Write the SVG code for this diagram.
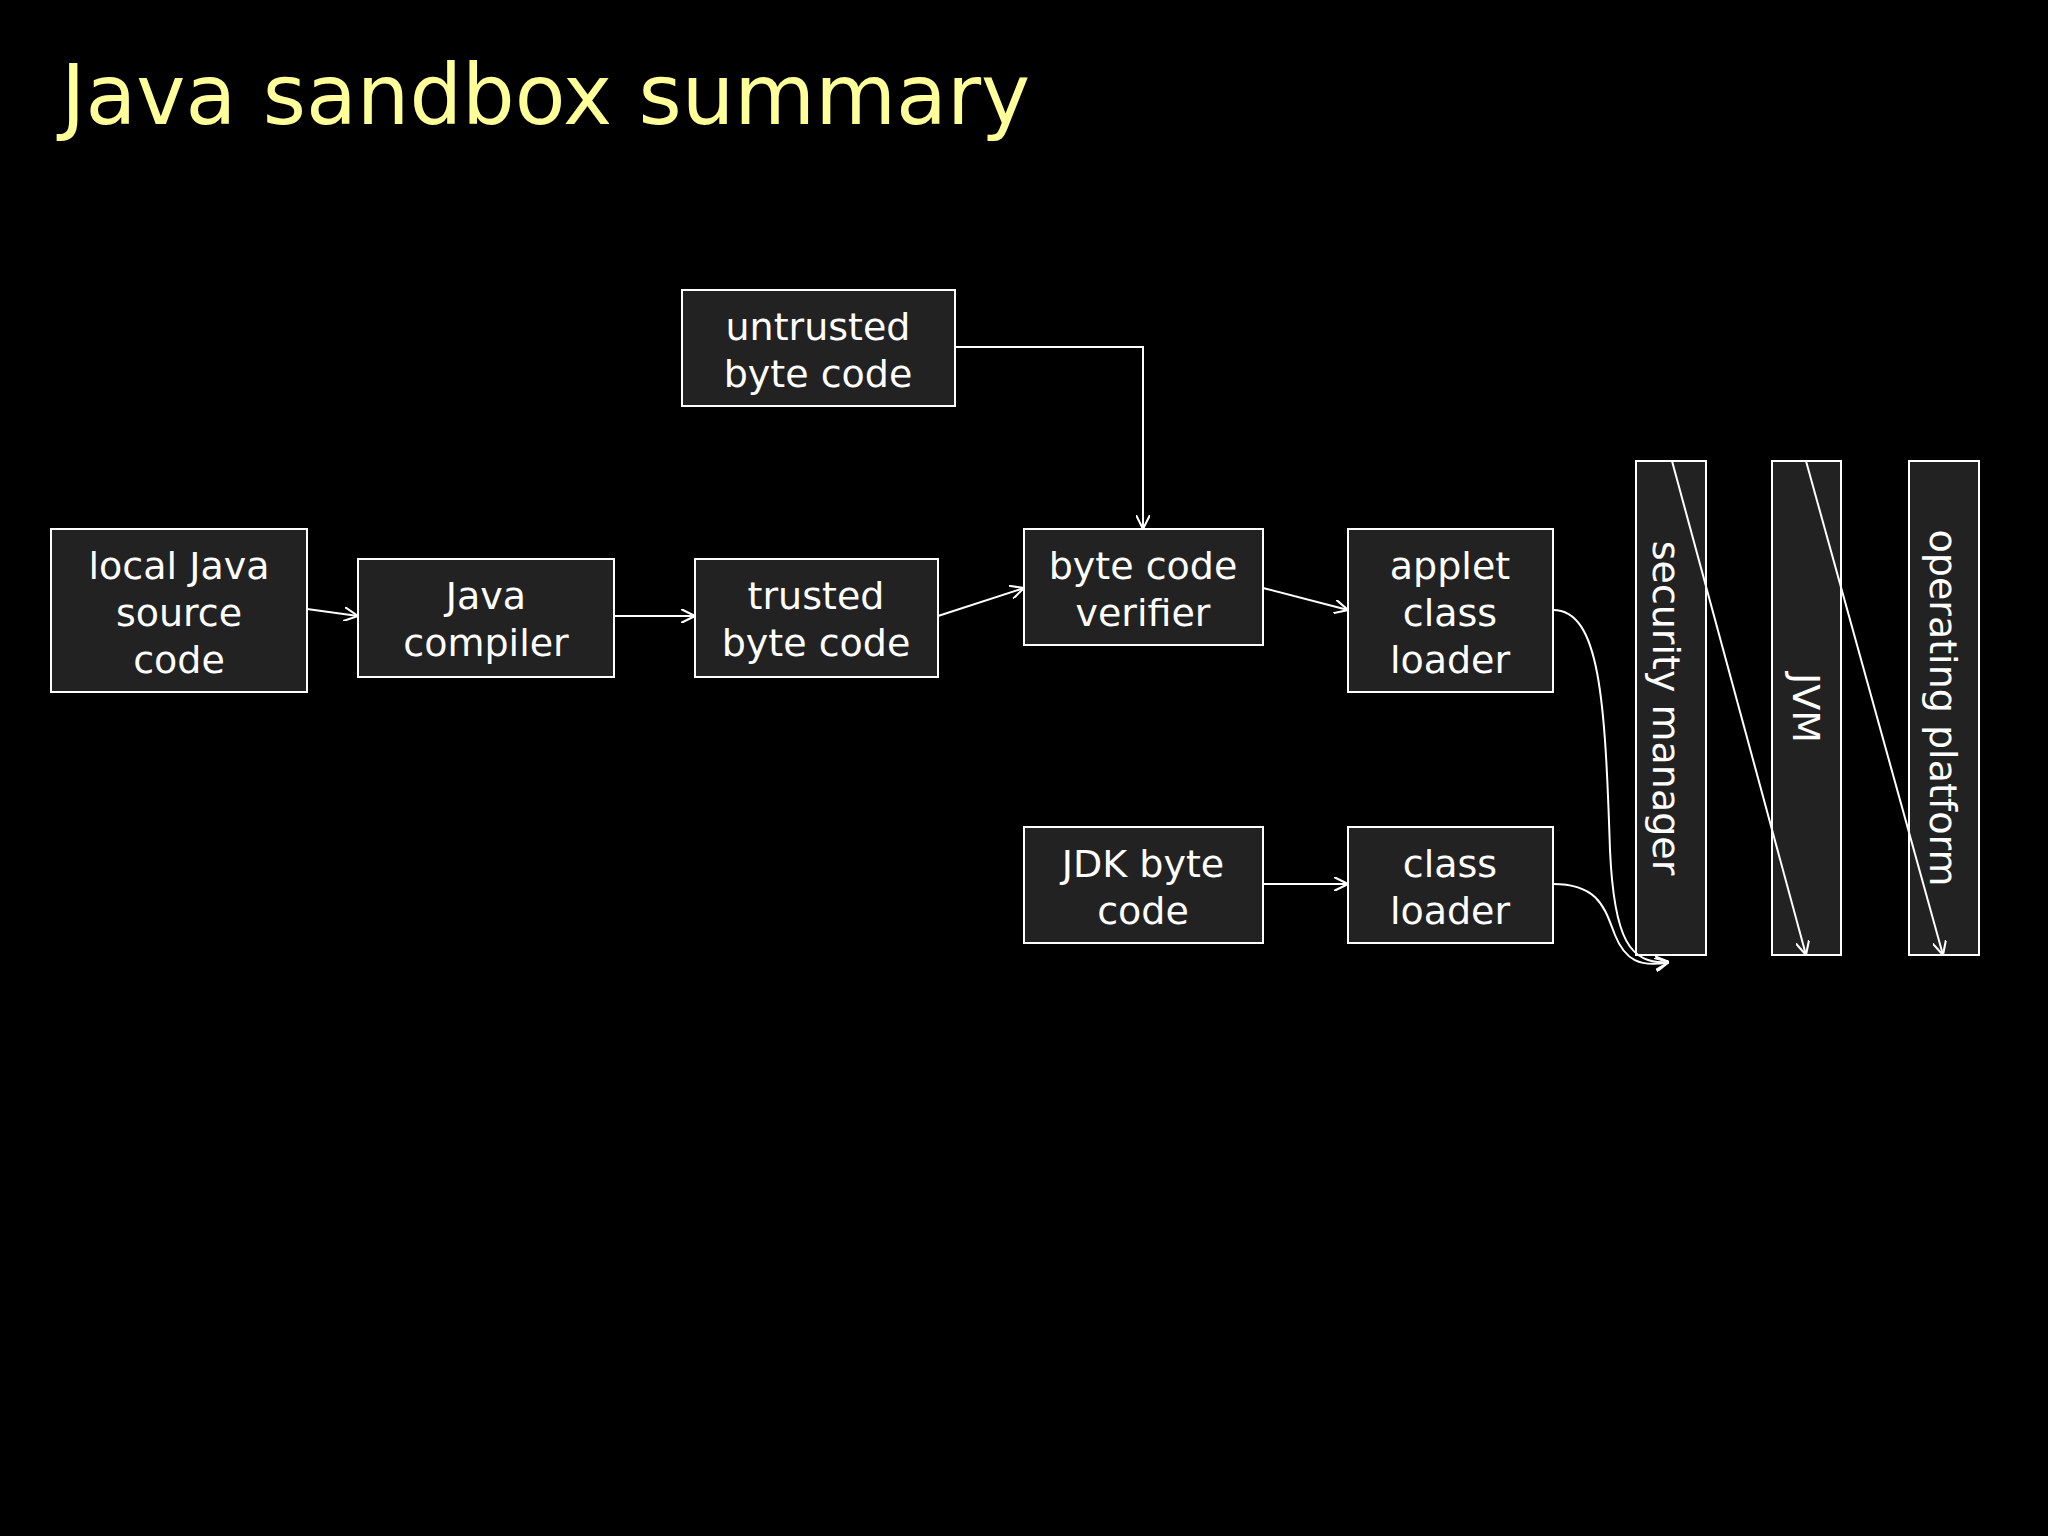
<svg xmlns="http://www.w3.org/2000/svg" width="2048" height="1536" viewBox="0 0 2048 1536">
<style>
.b{fill:#222;stroke:#fff;stroke-width:2}
.t{fill:#fff;font-family:"Comic Sans MS","DejaVu Sans",sans-serif;font-size:38px;text-anchor:middle}
.c{fill:none;stroke:#fff;stroke-width:2;marker-end:url(#a)}
</style>
<defs><marker id="a" viewBox="0 0 10 10" refX="10" refY="5" markerWidth="14" markerHeight="14" markerUnits="userSpaceOnUse" orient="auto"><path d="M0,0 L10,5 L0,10" fill="none" stroke="#fff" stroke-width="1.5"/></marker></defs>
<rect width="2048" height="1536" fill="#000"/>
<text x="61" y="124" font-family="'Comic Sans MS','DejaVu Sans',sans-serif" font-size="83" fill="#ffff99">Java sandbox summary</text>
<g id="local"><rect class="b" x="51" y="529" width="256" height="163"/><text class="t" x="179" y="579">local Java</text><text class="t" x="179" y="626">source</text><text class="t" x="179" y="673">code</text></g>
<g id="compiler"><rect class="b" x="358" y="559" width="256" height="118"/><text class="t" x="486" y="609">Java</text><text class="t" x="486" y="656">compiler</text></g>
<g id="trusted"><rect class="b" x="695" y="559" width="243" height="118"/><text class="t" x="816" y="609">trusted</text><text class="t" x="816" y="656">byte code</text></g>
<g id="untrusted"><rect class="b" x="682" y="290" width="273" height="116"/><text class="t" x="818" y="340">untrusted</text><text class="t" x="818" y="387">byte code</text></g>
<g id="verifier"><rect class="b" x="1024" y="529" width="239" height="116"/><text class="t" x="1143" y="579">byte code</text><text class="t" x="1143" y="626">verifier</text></g>
<g id="applet"><rect class="b" x="1348" y="529" width="205" height="163"/><text class="t" x="1450" y="579">applet</text><text class="t" x="1450" y="626">class</text><text class="t" x="1450" y="673">loader</text></g>
<g id="jdk"><rect class="b" x="1024" y="827" width="239" height="116"/><text class="t" x="1143" y="877">JDK byte</text><text class="t" x="1143" y="924">code</text></g>
<g id="loader"><rect class="b" x="1348" y="827" width="205" height="116"/><text class="t" x="1450" y="877">class</text><text class="t" x="1450" y="924">loader</text></g>
<g id="secmgr"><rect class="b" x="1636" y="461" width="70" height="494"/><text class="t" transform="translate(1653,708) rotate(90)">security manager</text></g>
<g id="jvm"><rect class="b" x="1772" y="461" width="69" height="494"/><text class="t" transform="translate(1793,708) rotate(90)">JVM</text></g>
<g id="os"><rect class="b" x="1909" y="461" width="70" height="494"/><text class="t" transform="translate(1930,708) rotate(90)">operating platform</text></g>
<g id="connectors">
<path class="c" d="M307,609 L358,616"/>
<path class="c" d="M614,616 L695,616"/>
<path class="c" d="M938,616 L1024,588"/>
<path class="c" d="M955,347 L1143,347 L1143,529"/>
<path class="c" d="M1263,588 L1348,610"/>
<path class="c" d="M1263,884 L1348,884"/>
<path class="c" d="M1553,610 C1600,610 1605,700 1610,850 C1614,940 1630,965 1669,962"/>
<path class="c" d="M1553,884 C1600,884 1605,910 1615,935 C1625,960 1640,968 1669,962"/>
<path class="c" d="M1672,461 L1806,955"/>
<path class="c" d="M1806,461 L1943,955"/>
</g>
</svg>
